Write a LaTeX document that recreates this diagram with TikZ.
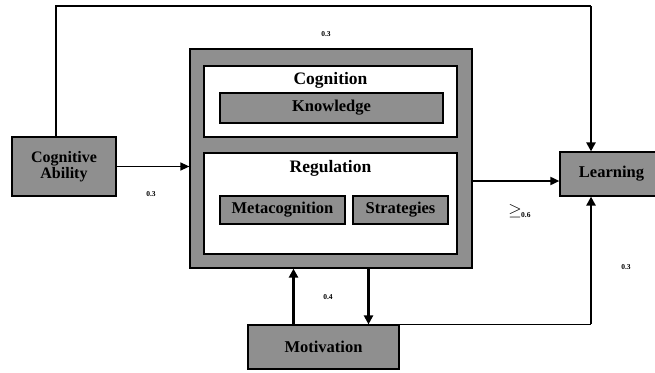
\documentclass[tikz,border=0pt]{standalone}
\usepackage{fontspec}
\setmainfont{Liberation Serif}
\usetikzlibrary{arrows.meta,calc}
\definecolor{BoxClr}{rgb}{0.56,0.56,0.56}

\begin{document}
\begin{tikzpicture}[x=1pt,y=-1pt,
  box/.style={draw,line width=1.2pt,fill=BoxClr,inner sep=0pt,
    font=\fontsize{16.5}{17}\selectfont\bfseries,align=center},
  panel/.style={draw,line width=1.2pt,fill=white,inner sep=0pt},
  wt/.style={font=\fontsize{7.5}{8}\selectfont\bfseries},
  thin/.style={line width=1.2pt},
  arr/.style={line width=1.8pt,-{Triangle[length=9pt,width=8pt]}},
  bigarr/.style={line width=2.6pt,-{Triangle[length=9pt,width=9pt]}}]
\useasboundingbox[fill=white] (0,0) rectangle (655,372);

% metacognition block
\node[box,minimum width=282pt,minimum height=219pt] (outer) at (331,158.5) {};
\node[panel,minimum width=253pt,minimum height=71pt] (cogn) at (330.5,101.5) {};
\node[panel,minimum width=253pt,minimum height=101pt] (regul) at (330.5,203.5) {};
\node[font=\fontsize{17.5}{18}\selectfont\bfseries] (cognt) at (330.5,80) {Cognition};
\node[font=\fontsize{17.5}{18}\selectfont\bfseries] (regult) at (330.5,168) {Regulation};
\node[box,minimum width=223pt,minimum height=30pt] (know) at (331.5,108) {Knowledge};
\node[box,minimum width=125pt,minimum height=28pt] (meta) at (282.5,210) {Metacognition};
\node[box,minimum width=95pt,minimum height=28pt] (strat) at (400.5,210) {Strategies};

% outside boxes
\node[box,minimum width=104pt,minimum height=59pt,
  font=\fontsize{16}{16}\selectfont\bfseries] (ability) at (64,166.5) {Cognitive\\Ability};
\node[box,minimum width=98pt,minimum height=44pt] (learn) at (609,174) {\hspace*{5pt}Learning};
\node[box,minimum width=151pt,minimum height=44pt] (motiv) at (323.5,347) {Motivation};

% paths
\coordinate (topY) at (0,6);
\coordinate (lin) at ($(learn.west)+(0,7)$);
\coordinate (lup) at ($(learn.north)+(-18,0)$);
\coordinate (ldn) at ($(learn.south)+(-18,0)$);
\draw[thin] (ability.north -| 56,0) -- (56,0 |- topY) -- (lup |- topY) coordinate (tcorner);
\draw[bigarr] (tcorner) -- (lup);
\draw[thin,-{Triangle[length=9pt,width=8pt]}] (ability.east) -- (outer.west |- ability.east);
\draw[arr] (outer.east |- lin) -- (lin);
\draw[bigarr] ([xshift=-30pt]motiv.north) -- ([xshift=-30pt]motiv.north |- outer.south);
\draw[bigarr] ([xshift=45pt]motiv.north |- outer.south) -- ([xshift=45pt]motiv.north);
\draw[thin] (motiv.north east) -- (ldn |- motiv.north) coordinate (bcorner);
\draw[bigarr] (bcorner) -- (ldn);

% weights
\node[wt] (w1) at (326,34) {0.3};
\node[wt] (w2) at (151,194) {0.3};
\node[wt] (w3) at (328,297) {0.4};
\node[wt] (w4) at (626,267) {0.3};
\node[font=\fontsize{16}{18}\selectfont] (w5) at (515,211) {$\geq$};
\node[wt,anchor=west,inner sep=0pt] (w6) at (521,215) {0.6};

\end{tikzpicture}
\end{document}
